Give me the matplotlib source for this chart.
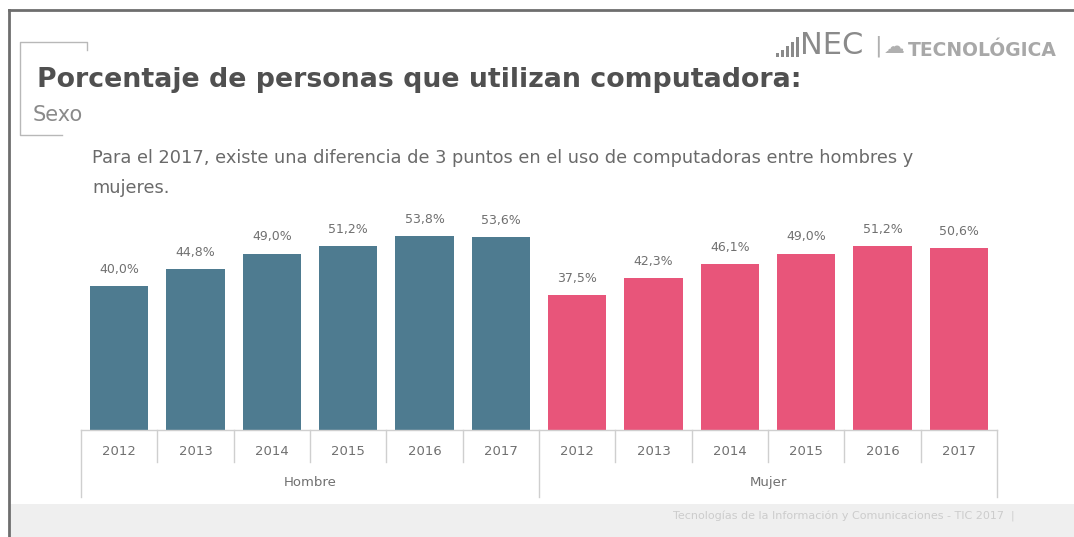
import numpy as np
import matplotlib.pyplot as plt
from matplotlib.patches import Rectangle
from matplotlib.lines import Line2D

# data
years = ['2012', '2013', '2014', '2015', '2016', '2017']
groups = ['Hombre', 'Mujer']
hombre = [40.0, 44.8, 49.0, 51.2, 53.8, 53.6]
mujer = [37.5, 42.3, 46.1, 49.0, 51.2, 50.6]
colors = ['#4e7b90', '#e8557a']

W, H = 1074, 537
fig = plt.figure(figsize=(W / 100, H / 100), dpi=100)
fig.patch.set_facecolor('white')

def fx(x):
    return x / W

def fy(y):
    return 1 - y / H

# slide frame and grey band at the bottom
fig.patches.append(Rectangle((fx(10), 0), 1, fy(504), transform=fig.transFigure,
                             facecolor='#efefef', edgecolor='none', zorder=0))
fig.lines.append(Line2D([fx(9), fx(9)], [0, fy(10)], transform=fig.transFigure,
                        color='#6e6e6e', lw=2))
fig.lines.append(Line2D([fx(9), 1], [fy(10), fy(10)], transform=fig.transFigure,
                        color='#6e6e6e', lw=2))

# title bracket
fig.lines.append(Line2D([fx(87), fx(87), fx(20), fx(20), fx(62)],
                        [fy(50), fy(42), fy(42), fy(135), fy(135)],
                        transform=fig.transFigure, color='#b8b8b8', lw=1))

fig.text(fx(37), fy(80), 'Porcentaje de personas que utilizan computadora:',
         fontsize=19.3, fontweight='bold', color='#505050', va='center', ha='left')
fig.text(fx(33), fy(115), 'Sexo', fontsize=15, color='#8a8a8a', va='center', ha='left')
fig.text(fx(92), fy(158),
         'Para el 2017, existe una diferencia de 3 puntos en el uso de computadoras entre hombres y',
         fontsize=12.8, color='#6a6a6a', va='center', ha='left')
fig.text(fx(92), fy(188), 'mujeres.', fontsize=12.8, color='#6a6a6a', va='center', ha='left')

# logo
for i, hgt in enumerate([4, 7, 11, 15, 20]):
    fig.patches.append(Rectangle((fx(776 + i * 5), fy(57)), fx(3), hgt / H,
                                 transform=fig.transFigure, facecolor='#8a8a8a',
                                 edgecolor='none'))
fig.text(fx(800), fy(46), 'NEC', fontsize=22, color='#8a8a8a', va='center', ha='left')
fig.text(fx(874), fy(46), '|', fontsize=16, color='#b0b0b0', va='center', ha='left')
fig.text(fx(884), fy(47), '☁', fontsize=15, color='#b0b0b0', va='center', ha='left')
fig.text(fx(908), fy(50), 'TECNOLÓGICA', fontsize=13.5, fontweight='bold',
         color='#a8a8a8', va='center', ha='left')

# footer
fig.text(fx(1015), fy(516),
         'Tecnologías de la Información y Comunicaciones - TIC 2017  |',
         fontsize=8, color='#cccccc', va='center', ha='right')

# bar chart
ax = fig.add_axes([fx(81), fy(430), fx(997) - fx(81), 216 / H])
ax.set_xlim(0, 12)
ax.set_ylim(0, 60)
ax.axis('off')

values = hombre + mujer
bar_colors = [colors[0]] * len(hombre) + [colors[1]] * len(mujer)
x = np.arange(len(values)) + 0.5
ax.bar(x, values, width=0.76, color=bar_colors, zorder=2)

for xi, v in zip(x, values):
    ax.annotate(f'{v:.1f}%'.replace('.', ','), (xi, v), xytext=(0, 12),
                textcoords='offset points', ha='center', va='center',
                fontsize=9, color='#707070')

# category axis with two levels
trans = ax.get_xaxis_transform()
ax.plot([0, 12], [0, 0], transform=trans, color='#cfcfcf', lw=1, clip_on=False)
for i in range(13):
    low = -0.31 if i % 6 == 0 else -0.15
    ax.plot([i, i], [0, low], transform=trans, color='#cfcfcf', lw=1, clip_on=False)
for xi, lab in zip(x, years * 2):
    ax.text(xi, -0.10, lab, transform=trans, ha='center', va='center',
            fontsize=9.5, color='#707070')
for gi, g in enumerate(groups):
    ax.text(3 + gi * 6, -0.245, g, transform=trans, ha='center', va='center',
            fontsize=9.5, color='#707070')

fig.savefig('out.png', dpi=100)
